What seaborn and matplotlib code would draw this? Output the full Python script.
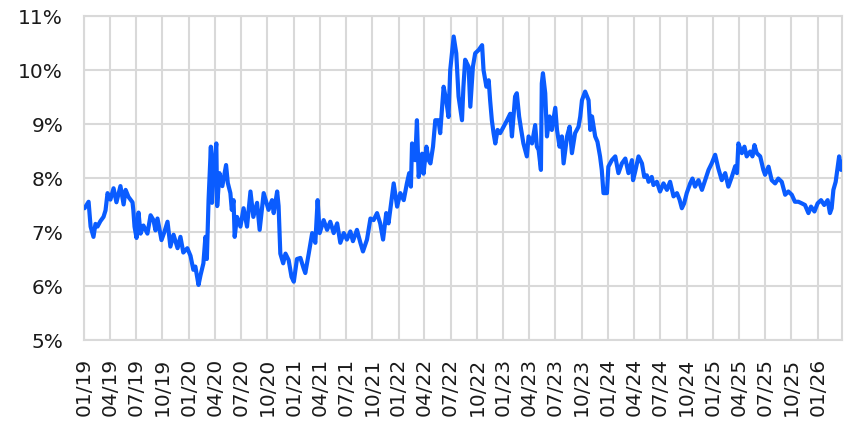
import matplotlib
matplotlib.use("Agg")
import matplotlib.pyplot as plt
import matplotlib.dates as mdates
from matplotlib.ticker import FuncFormatter
import seaborn as sns
import pandas as pd

# ---- data ----
start_date = "2019-01-01"
day_offsets = [
    2, 9, 16, 23, 33, 40, 47, 57, 68, 75, 82, 92, 103, 113, 127, 138, 145, 155, 169, 172,
    176, 183, 190, 197, 207, 221, 232, 242, 249, 256, 270, 280, 291, 301, 312, 326, 336, 346, 360, 371,
    381, 388, 399, 406, 416, 423, 428, 434, 442, 446, 451, 461, 464, 472, 482, 495, 501, 510, 515, 521,
    525, 533, 545, 556, 568, 580, 590, 603, 612, 626, 643, 655, 661, 673, 678, 684, 694, 702, 713, 723,
    731, 742, 754, 765, 771, 783, 795, 806, 814, 821, 835, 847, 858, 870, 882, 893, 905, 916, 928, 937,
    951, 963, 972, 986, 998, 1009, 1021, 1032, 1042, 1053, 1061, 1079, 1091, 1102, 1114, 1125, 1133, 1139, 1143, 1154,
    1160, 1166, 1178, 1183, 1193, 1201, 1207, 1216, 1224, 1235, 1241, 1253, 1262, 1270, 1276, 1288, 1297, 1305, 1317, 1322,
    1328, 1340, 1346, 1355, 1363, 1375, 1387, 1392, 1402, 1410, 1415, 1421, 1427, 1433, 1441, 1450, 1462, 1474, 1485, 1491,
    1502, 1508, 1516, 1523, 1531, 1543, 1549, 1561, 1572, 1578, 1584, 1592, 1595, 1599, 1607, 1613, 1622, 1630, 1642, 1648,
    1657, 1665, 1671, 1683, 1692, 1700, 1711, 1723, 1729, 1735, 1746, 1758, 1764, 1770, 1781, 1789, 1798, 1804, 1810, 1822,
    1827, 1839, 1851, 1862, 1874, 1886, 1897, 1909, 1913, 1920, 1932, 1944, 1952, 1961, 1967, 1978, 1984, 1996, 2007, 2019,
    2031, 2042, 2054, 2066, 2075, 2083, 2091, 2100, 2112, 2120, 2129, 2141, 2153, 2164, 2176, 2187, 2199, 2210, 2222, 2234,
    2245, 2257, 2269, 2275, 2280, 2292, 2301, 2309, 2321, 2329, 2336, 2344, 2356, 2367, 2373, 2385, 2396, 2408, 2419, 2431,
    2443, 2454, 2466, 2477, 2489, 2501, 2512, 2524, 2533, 2545, 2556, 2568, 2579, 2591, 2599, 2605, 2611, 2619, 2626, 2631,
    2638, 2641,
]
rate_pct = [
    7.44, 7.50, 7.56, 7.10, 6.91, 7.15, 7.10, 7.20, 7.28, 7.40, 7.72, 7.60, 7.81, 7.55, 7.85, 7.51, 7.78, 7.65, 7.55, 7.40,
    7.10, 6.89, 7.36, 6.97, 7.12, 6.97, 7.31, 7.22, 7.03, 7.25, 6.85, 7.00, 7.19, 6.73, 6.95, 6.70, 6.91, 6.62, 6.70, 6.56,
    6.30, 6.36, 6.02, 6.20, 6.42, 6.91, 6.50, 7.59, 8.58, 7.54, 8.15, 8.64, 7.48, 8.09, 7.85, 8.24, 7.91, 7.72, 7.41, 7.59,
    6.91, 7.28, 7.10, 7.44, 7.10, 7.75, 7.28, 7.54, 7.04, 7.72, 7.41, 7.59, 7.35, 7.75, 7.48, 6.60, 6.42, 6.60, 6.48, 6.17,
    6.08, 6.50, 6.52, 6.33, 6.24, 6.60, 6.98, 6.80, 7.59, 6.98, 7.22, 7.04, 7.19, 6.98, 7.16, 6.80, 6.98, 6.86, 7.01, 6.83,
    7.04, 6.80, 6.64, 6.86, 7.25, 7.22, 7.35, 7.16, 6.86, 7.35, 7.16, 7.90, 7.47, 7.72, 7.59, 7.90, 8.09, 7.84, 8.64, 8.33,
    9.07, 8.02, 8.45, 8.08, 8.58, 8.33, 8.27, 8.58, 9.07, 9.07, 8.83, 9.69, 9.44, 9.13, 10.00, 10.62, 10.31, 9.51, 9.07, 9.69,
    10.19, 10.06, 9.32, 10.06, 10.31, 10.37, 10.46, 10.00, 9.69, 9.81, 9.44, 9.07, 8.83, 8.64, 8.89, 8.83, 8.95, 9.07, 9.19, 8.77,
    9.51, 9.57, 9.14, 8.90, 8.64, 8.40, 8.77, 8.64, 8.98, 8.58, 8.52, 8.15, 9.75, 9.94, 9.57, 8.77, 9.14, 8.89, 9.30, 8.89,
    8.58, 8.77, 8.27, 8.77, 8.95, 8.46, 8.83, 8.95, 9.14, 9.44, 9.60, 9.44, 8.89, 9.14, 8.77, 8.67, 8.40, 8.15, 7.72, 7.72,
    8.21, 8.33, 8.40, 8.09, 8.27, 8.36, 8.09, 8.33, 7.96, 8.11, 8.40, 8.27, 8.02, 8.05, 7.93, 8.02, 7.87, 7.93, 7.75, 7.90,
    7.78, 7.93, 7.66, 7.72, 7.60, 7.44, 7.53, 7.72, 7.90, 7.99, 7.84, 7.96, 7.78, 7.96, 8.15, 8.27, 8.43, 8.18, 7.96, 8.09,
    7.84, 8.02, 8.22, 8.09, 8.64, 8.46, 8.58, 8.40, 8.49, 8.40, 8.61, 8.46, 8.40, 8.15, 8.06, 8.21, 7.96, 7.90, 7.99, 7.93,
    7.69, 7.75, 7.69, 7.56, 7.56, 7.53, 7.50, 7.35, 7.47, 7.38, 7.53, 7.59, 7.50, 7.59, 7.35, 7.44, 7.78, 7.93, 8.21, 8.40,
    8.15, 8.30,
]
y_ticks_pct = [5, 6, 7, 8, 9, 10, 11]

# ---- build frame ----
df = pd.DataFrame({
    "date": pd.Timestamp(start_date) + pd.to_timedelta(day_offsets, unit="D"),
    "rate": rate_pct,
})

sns.set_style("white")
plt.rcParams["font.family"] = ["DejaVu Sans"]

fig = plt.figure(figsize=(8.47, 4.22), dpi=100)
ax = fig.add_axes([84 / 847, 1 - 340 / 422, (842 - 84) / 847, (340 - 16) / 422])

grid_c = "#d9d9d9"
sns.lineplot(data=df, x="date", y="rate", ax=ax, color="#0a5cff", linewidth=3.0,
             solid_joinstyle="round", solid_capstyle="round", zorder=3)

ax.set_xlim(pd.Timestamp(start_date), df["date"].iloc[-1])
ax.set_ylim(y_ticks_pct[0], y_ticks_pct[-1])
ax.set_yticks(y_ticks_pct)
ax.yaxis.set_major_formatter(FuncFormatter(lambda v, p: f"{v:.0f}%"))

ax.xaxis.set_major_locator(mdates.MonthLocator(bymonth=[1, 4, 7, 10], bymonthday=1))
ax.xaxis.set_major_formatter(mdates.DateFormatter("%m/%y"))

ax.grid(True, which="major", axis="both", color=grid_c, linewidth=1.5, zorder=0)
for s in ax.spines.values():
    s.set_color(grid_c)
    s.set_linewidth(1.5)

ax.tick_params(axis="x", which="major", length=5, width=1.5, color=grid_c,
               labelsize=14.5, labelrotation=90, pad=8, labelcolor="#1a1a1a")
ax.tick_params(axis="y", which="major", length=0, pad=15, labelsize=14.5, labelcolor="#1a1a1a")

ax.set_xlabel("")
ax.set_ylabel("")
if ax.get_legend():
    ax.get_legend().remove()

fig.savefig("out.png", dpi=100)
